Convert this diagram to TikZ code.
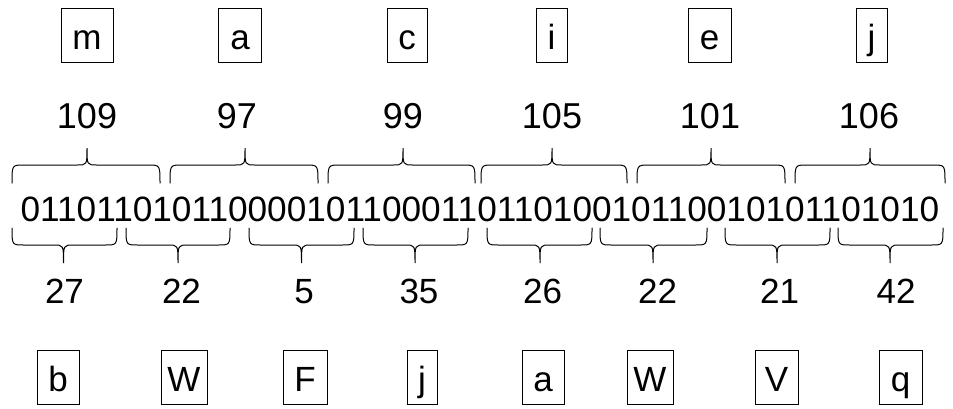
\documentclass[tikz,border=0pt]{standalone}
\usepackage{fontspec}
\setmainfont{Liberation Sans}
\tikzset{
  lbox/.style={draw, line width=1pt, inner sep=0pt, minimum height=54pt,
    text height=28pt, text depth=0pt, font=\fontsize{35}{40}\selectfont},
  num/.style={inner sep=0pt, anchor=base, font=\fontsize{35}{40}\selectfont},
  brc/.style={line width=1pt, line cap=round},
}
% x1 xm x2 yend ymid ytip
\newcommand\mybrace[6]{%
  \draw[brc] (#1,#4) .. controls (#1,#5) .. ({#1+12},#5) -- ({#2-10},#5)
    .. controls (#2,#5) .. (#2,#6) .. controls (#2,#5) .. ({#2+10},#5)
    -- ({#3-12},#5) .. controls (#3,#5) .. (#3,#4);}
\begin{document}
\begin{tikzpicture}[x=1pt,y=-1pt]
\useasboundingbox (0,0) rectangle (953,408);
% top letters
\node[lbox, minimum width=52pt] (t1) at (87,35) {m};
\node[lbox, minimum width=43pt] (t2) at (240,35) {a};
\node[lbox, minimum width=40pt] (t3) at (407,35) {c};
\node[lbox, minimum width=31pt] (t4) at (551.5,35) {i};
\node[lbox, minimum width=43pt] (t5) at (709.5,35) {e};
\node[lbox, minimum width=31pt] (t6) at (871.5,35) {j};
% top numbers
\node[num, font=\fontsize{36}{40}\selectfont] (n1) at (87,128) {109};
\node[num, font=\fontsize{36}{40}\selectfont] (n2) at (237,128) {97};
\node[num, font=\fontsize{36}{40}\selectfont] (n3) at (403,128) {99};
\node[num, font=\fontsize{36}{40}\selectfont] (n4) at (552,128) {105};
\node[num, font=\fontsize{36}{40}\selectfont] (n5) at (710,128) {101};
\node[num, font=\fontsize{36}{40}\selectfont] (n6) at (869,128) {106};
% binary string
\node[num, font=\fontsize{35.2}{40}\selectfont] (bin) at (480,221)
  {011011010110000101100011011010010110010101101010};
% top braces
\mybrace{12}{87}{160}{183}{165}{148}
\mybrace{170}{245}{318}{183}{165}{148}
\mybrace{328}{403}{475}{183}{165}{148}
\mybrace{481}{552}{627}{183}{165}{148}
\mybrace{637}{711}{785}{183}{165}{148}
\mybrace{795}{870}{945}{183}{165}{148}
% bottom braces
\mybrace{12}{63.5}{117}{228}{245}{263}
\mybrace{126}{178}{230}{228}{245}{263}
\mybrace{249}{301.5}{354}{228}{245}{263}
\mybrace{363}{415}{468}{228}{245}{263}
\mybrace{487}{540}{592}{228}{245}{263}
\mybrace{600}{653}{707}{228}{245}{263}
\mybrace{725}{777}{830}{228}{245}{263}
\mybrace{838}{890}{943}{228}{245}{263}
% bottom numbers
\node[num] (m1) at (64.5,303) {27};
\node[num] (m2) at (181.5,303) {22};
\node[num] (m3) at (304,303) {5};
\node[num] (m4) at (419,303) {35};
\node[num] (m5) at (542.5,303) {26};
\node[num] (m6) at (657.5,303) {22};
\node[num] (m7) at (779.5,303) {21};
\node[num] (m8) at (896,303) {42};
% bottom letters
\node[lbox, minimum width=42pt] (b1) at (58,377) {b};
\node[lbox, minimum width=46pt] (b2) at (184,377) {W};
\node[lbox, minimum width=44pt] (b3) at (305,377) {F};
\node[lbox, minimum width=30pt] (b4) at (422,377) {j};
\node[lbox, minimum width=42pt] (b5) at (543,377) {a};
\node[lbox, minimum width=46pt] (b6) at (650,377) {W};
\node[lbox, minimum width=43pt] (b7) at (776.5,377) {V};
\node[lbox, minimum width=43pt] (b8) at (900.5,377) {q};
\end{tikzpicture}
\end{document}
